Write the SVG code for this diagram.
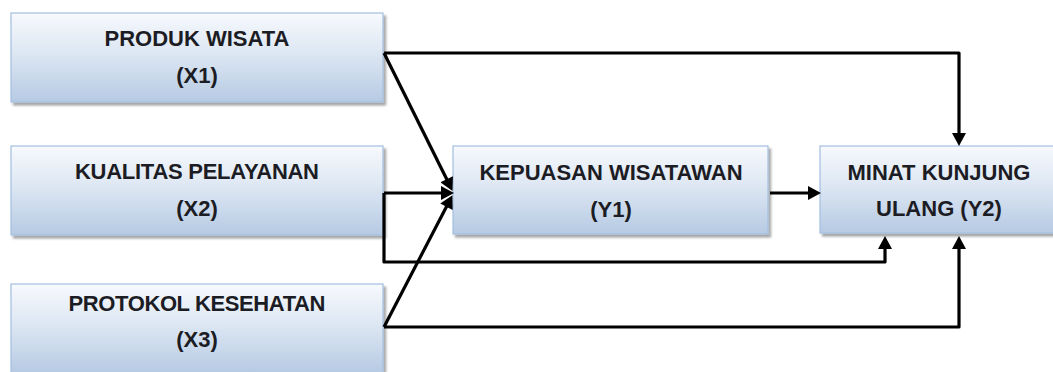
<svg xmlns="http://www.w3.org/2000/svg" width="1053" height="372" viewBox="0 0 1053 372">
  <style>
    .box { fill: url(#boxGrad); stroke: #a3bedf; stroke-width: 1.2; filter: url(#shadow); }
    .lbl { font-family: "Liberation Sans", Arial, sans-serif; font-weight: bold; font-size: 22px; fill: #1c1c24; text-anchor: middle; }
    .conn { fill: none; stroke: #000; stroke-width: 3.2; stroke-linejoin: round; }
  </style>
  <defs>
    <linearGradient id="boxGrad" x1="0" y1="0" x2="0" y2="1">
      <stop offset="0" stop-color="#f7f9fd"/>
      <stop offset="0.45" stop-color="#dde7f3"/>
      <stop offset="1" stop-color="#b6cae3"/>
    </linearGradient>
    <filter id="shadow" x="-5%" y="-10%" width="115%" height="130%">
      <feDropShadow dx="2.5" dy="3" stdDeviation="1.2" flood-color="#000" flood-opacity="0.35"/>
    </filter>
    <marker id="arrow" markerUnits="userSpaceOnUse" markerWidth="14" markerHeight="14" viewBox="0 0 13 14" refX="9" refY="7" orient="auto">
      <path d="M0,0 L13,7 L0,14 z" fill="#000"/>
    </marker>
  </defs>

  <g id="node-x1">
    <rect class="box" x="11" y="13" width="372" height="89"/>
    <text class="lbl" x="197" y="46">PRODUK WISATA</text>
    <text class="lbl" x="197" y="83">(X1)</text>
  </g>
  <g id="node-x2">
    <rect class="box" x="11" y="146" width="372" height="89"/>
    <text class="lbl" x="197" y="179" textLength="244">KUALITAS PELAYANAN</text>
    <text class="lbl" x="197" y="216">(X2)</text>
  </g>
  <g id="node-x3">
    <rect class="box" x="11" y="284" width="372" height="89"/>
    <text class="lbl" x="197" y="311" textLength="257">PROTOKOL KESEHATAN</text>
    <text class="lbl" x="197" y="347">(X3)</text>
  </g>
  <g id="node-y1">
    <rect class="box" x="453" y="146" width="315" height="88"/>
    <text class="lbl" x="611" y="180">KEPUASAN WISATAWAN</text>
    <text class="lbl" x="611" y="217">(Y1)</text>
  </g>
  <g id="node-y2">
    <rect class="box" x="820" y="146" width="236" height="87"/>
    <text class="lbl" x="939" y="180">MINAT KUNJUNG</text>
    <text class="lbl" x="939" y="216">ULANG (Y2)</text>
  </g>

  <g id="connectors">
    <path class="conn" d="M384,53 H959 V142" marker-end="url(#arrow)"/>
    <path class="conn" d="M384,53 L450.7,187.3" marker-end="url(#arrow)"/>
    <path class="conn" d="M384,193 H450" marker-end="url(#arrow)"/>
    <path class="conn" d="M384,193 V262 H885 V240" marker-end="url(#arrow)"/>
    <path class="conn" d="M384,327 L450.6,198.7" marker-end="url(#arrow)"/>
    <path class="conn" d="M384,327 H959 V240" marker-end="url(#arrow)"/>
    <path class="conn" d="M770,193 H817" marker-end="url(#arrow)"/>
  </g>
</svg>
